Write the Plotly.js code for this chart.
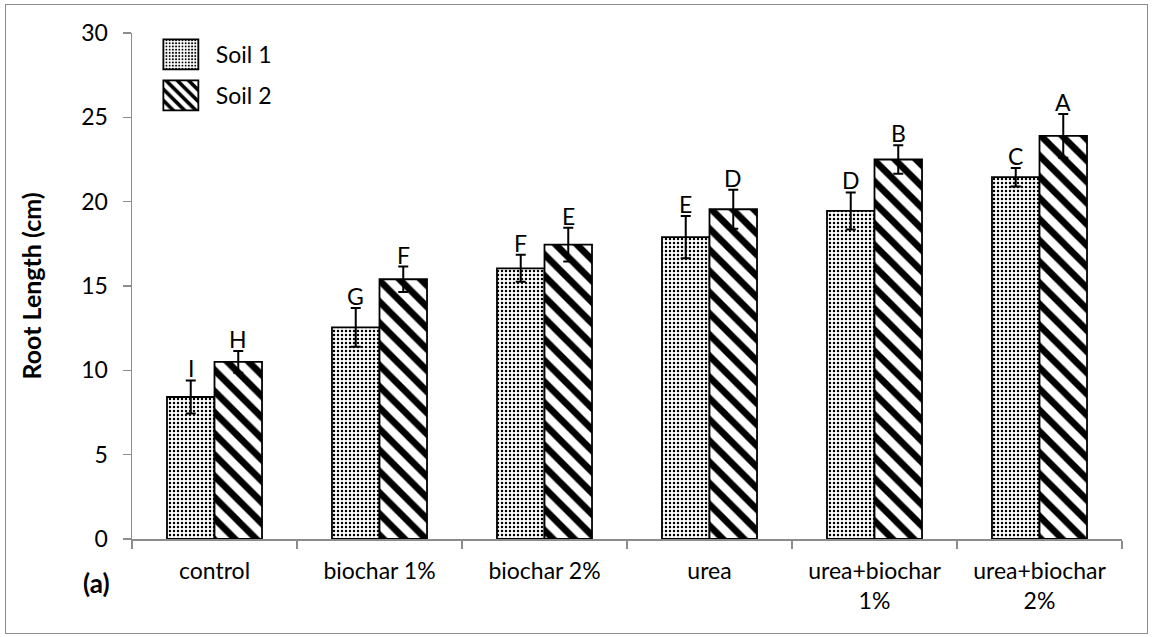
<!DOCTYPE html>
<html>
<head>
<meta charset="utf-8">
<script src="https://cdn.plot.ly/plotly-3.0.1.min.js"></script>
<style>
html,body{margin:0;padding:0;background:#fff;}
#wrap{position:relative;width:1152px;height:637px;}
#chart{position:absolute;left:0;top:0;width:1152px;height:637px;}
#frame{position:absolute;left:5px;top:4px;width:1143px;height:630px;border:1.5px solid #8c8c8c;box-sizing:border-box;pointer-events:none;}
</style>
</head>
<body>
<div id="wrap"><div id="chart"></div><div id="frame"></div></div>
<script>
const categories = ["control", "biochar 1%", "biochar 2%", "urea", "urea+biochar<br>1%", "urea+biochar<br>2%"];
const soil1 = [8.42, 12.55, 16.05, 17.9, 19.45, 21.45];
const soil1Err = [0.98, 1.15, 0.8, 1.25, 1.1, 0.55];
const soil1Letters = ["I", "G", "F", "E", "D", "C"];
const soil2 = [10.5, 15.4, 17.45, 19.55, 22.5, 23.9];
const soil2Err = [0.65, 0.75, 1.0, 1.15, 0.85, 1.3];
const soil2Letters = ["H", "F", "E", "D", "B", "A"];

const FONT = "Lato, 'Liberation Sans', sans-serif";
const FS = 23;

const trace1 = {
  type: "bar", name: "Soil 1", x: categories, y: soil1, legendgroup: "a",
  marker: {color: "white", line: {color: "black", width: 1.8},
    pattern: {shape: ".", size: 4, solidity: 0.3, fgcolor: "black", bgcolor: "white", fillmode: "replace"}},
  error_y: {type: "data", array: soil1Err, visible: true, color: "black", thickness: 2, width: 5}
};
const trace2 = {
  type: "bar", name: "Soil 2", x: categories, y: soil2, legendgroup: "b",
  marker: {color: "white", line: {color: "black", width: 1.8},
    pattern: {shape: "\\", size: 15, solidity: 0.45, fgcolor: "black", bgcolor: "white", fillmode: "replace"}},
  error_y: {type: "data", array: soil2Err, visible: true, color: "black", thickness: 2, width: 5}
};

const annotations = [];
const off = 0.144;
categories.forEach((c, i) => {
  annotations.push({x: i - off, y: soil1[i] + soil1Err[i], xref: "x", yref: "y", text: soil1Letters[i],
    showarrow: false, yanchor: "bottom", yshift: -4, font: {family: FONT, size: FS, color: "black"}});
  annotations.push({x: i + off, y: soil2[i] + soil2Err[i], xref: "x", yref: "y", text: soil2Letters[i],
    showarrow: false, yanchor: "bottom", yshift: -4, font: {family: FONT, size: FS, color: "black"}});
});
annotations.push({x: -0.036, y: -0.086, xref: "paper", yref: "paper", text: "<b>(a)</b>", showarrow: false,
  xanchor: "center", yanchor: "middle", font: {family: FONT, size: 26, color: "black"}});

const layout = {
  width: 1152, height: 637,
  margin: {l: 132, r: 30, t: 33, b: 98, pad: 0},
  paper_bgcolor: "white", plot_bgcolor: "white",
  font: {family: FONT, size: FS, color: "black"},
  barmode: "group", bargap: 0.424, bargroupgap: 0,
  showlegend: true,
  legend: {x: 0.014, y: 1.0, xanchor: "left", yanchor: "top", bgcolor: "rgba(0,0,0,0)",
    traceorder: "grouped", tracegroupgap: 8, itemwidth: 60, font: {family: FONT, size: FS, color: "black"}},
  xaxis: {type: "category", showline: true, linecolor: "#8c8c8c", linewidth: 1.5, ticks: "outside",
    tickson: "boundaries", ticklen: 8, tickcolor: "#8c8c8c", tickwidth: 1.5, showgrid: false,
    ticklabelstandoff: 11, tickfont: {family: FONT, size: FS, color: "black"}, automargin: false},
  yaxis: {range: [0, 30], dtick: 5, tick0: 0, showline: true, linecolor: "#8c8c8c", linewidth: 1.5,
    ticks: "outside", ticklen: 8, tickcolor: "#8c8c8c", tickwidth: 1.5, showgrid: false, zeroline: false,
    ticklabelstandoff: 10, tickfont: {family: FONT, size: FS, color: "black"}, automargin: false,
    title: {text: "<b>Root Length (cm)</b>", standoff: 32, font: {family: FONT, size: 25, color: "black"}}},
  annotations: annotations
};

function fixLegend() {
  document.querySelectorAll("#chart .legend .legendpoints path").forEach(p => {
    p.setAttribute("d", "M17.5,15H-17.5V-15H17.5Z");
  });
}
Plotly.newPlot("chart", [trace1, trace2], layout, {displayModeBar: false, staticPlot: true}).then(gd => {
  fixLegend();
  gd.on("plotly_afterplot", fixLegend);
});
</script>
</body>
</html>
